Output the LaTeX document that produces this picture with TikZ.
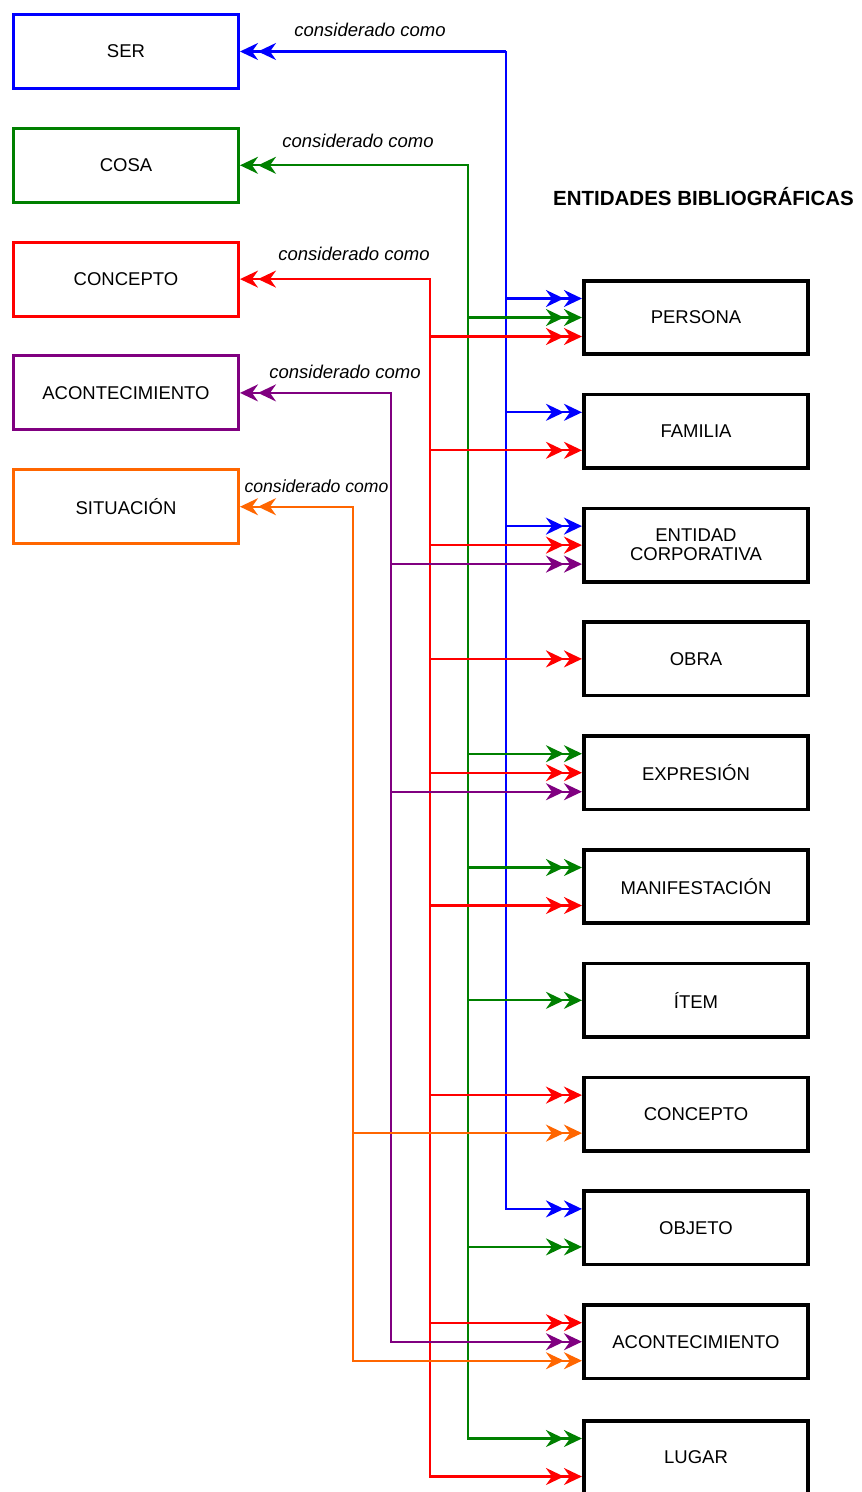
\documentclass[tikz,border=0pt]{standalone}
\usepackage{fontspec}
\setmainfont{Liberation Sans}
\usetikzlibrary{arrows.meta}
\definecolor{cblue}{RGB}{0,0,255}
\definecolor{cgreen}{RGB}{0,128,0}
\definecolor{cred}{RGB}{255,0,0}
\definecolor{cpurple}{RGB}{128,0,128}
\definecolor{corange}{RGB}{255,102,0}
\begin{document}
\begin{tikzpicture}[x=1pt,y=-1pt,
 lbox/.style={draw,line width=3pt,minimum width=225pt,minimum height=74pt,inner sep=0pt,font=\fontsize{18.5}{19}\selectfont,align=center},
 rbox/.style={draw=black,line width=3.6pt,minimum width=224.5pt,minimum height=73.5pt,inner sep=0pt,font=\fontsize{18.5}{19}\selectfont,align=center},
 dbl/.style={line width=2.2pt,-{Stealth[length=18pt,width=17pt,inset=6pt]Stealth[length=18pt,width=17pt,inset=6pt]}},
 trunk/.style={line width=2pt,line cap=rect},
 lab/.style={font=\itshape\fontsize{18.5}{20}\selectfont,inner sep=0pt}]
\useasboundingbox (0,0) rectangle (862,1492);
\fill[white] (0,0) rectangle (862,1492);

% left boxes
\node[lbox,draw=cblue]   (ser)  at (126,51.5)  {SER};
\node[lbox,draw=cgreen]  (cosa) at (126,165.3) {COSA};
\node[lbox,draw=cred]    (conc) at (126,279.1) {CONCEPTO};
\node[lbox,draw=cpurple] (acon) at (126,392.9) {ACONTECIMIENTO};
\node[lbox,draw=corange] (situ) at (126,506.7) {SITUACIÓN};

% labels
\node[lab] (l1) at (370,30) {considerado como};
\node[lab] (l2) at (358,141) {considerado como};
\node[lab] (l3) at (354,254) {considerado como};
\node[lab] (l4) at (345,372) {considerado como};
\node[lab,font=\itshape\fontsize{17.6}{20}\selectfont] (l5) at (316.5,486) {considerado como};

\node[font=\bfseries\fontsize{20.5}{22}\selectfont,inner sep=0pt] (title) at (703.5,197) {ENTIDADES BIBLIOGRÁFICAS};

% right boxes
\node[rbox] (persona) at (696,317.5)  {PERSONA};
\node[rbox] (familia) at (696,431.3)  {FAMILIA};
\node[rbox] (entidad) at (696,545.1)  {ENTIDAD\\CORPORATIVA};
\node[rbox] (obra)    at (696,658.9)  {OBRA};
\node[rbox] (expr)    at (696,772.7)  {EXPRESIÓN};
\node[rbox] (manif)   at (696,886.5)  {MANIFESTACIÓN};
\node[rbox] (item)    at (696,1000.3) {ÍTEM};
\node[rbox] (concb)   at (696,1114.1) {CONCEPTO};
\node[rbox] (objeto)  at (696,1227.9) {OBJETO};
\node[rbox] (aconb)   at (696,1341.7) {ACONTECIMIENTO};
\node[rbox] (lugar)   at (696,1457.5) {LUGAR};

\foreach \n in {persona,familia,entidad,obra,expr,manif,item,concb,objeto,aconb,lugar}{
  \coordinate (\n-a) at ([yshift=19pt]\n.west);
  \coordinate (\n-m) at (\n.west);
  \coordinate (\n-c) at ([yshift=-19pt]\n.west);
}

% trunk tops
\coordinate (bT) at (506,51.5);
\coordinate (gT) at (468,165.3);
\coordinate (rT) at (430,279.1);
\coordinate (pT) at (391,392.9);
\coordinate (oT) at (353,506.7);

% blue
\draw[trunk,cblue] (bT) -- (bT |- objeto-a);
\draw[dbl,cblue] (bT) -- (ser.east);
\foreach \t in {persona-a,familia-a,entidad-a,objeto-a}
  \draw[dbl,cblue] (bT |- \t) -- (\t);

% green
\draw[trunk,cgreen] (gT) -- (gT |- lugar-a);
\draw[dbl,cgreen] (gT) -- (cosa.east);
\foreach \t in {persona-m,expr-a,manif-a,item-m,objeto-c,lugar-a}
  \draw[dbl,cgreen] (gT |- \t) -- (\t);

% red
\draw[trunk,cred] (rT) -- (rT |- lugar-c);
\draw[dbl,cred] (rT) -- (conc.east);
\foreach \t in {persona-c,familia-c,entidad-m,obra-m,expr-m,manif-c,concb-a,aconb-a,lugar-c}
  \draw[dbl,cred] (rT |- \t) -- (\t);

% purple
\draw[trunk,cpurple] (pT) -- (pT |- aconb-m);
\draw[dbl,cpurple] (pT) -- (acon.east);
\foreach \t in {entidad-c,expr-c,aconb-m}
  \draw[dbl,cpurple] (pT |- \t) -- (\t);

% orange
\draw[trunk,corange] (oT) -- (oT |- aconb-c);
\draw[dbl,corange] (oT) -- (situ.east);
\foreach \t in {concb-c,aconb-c}
  \draw[dbl,corange] (oT |- \t) -- (\t);
\end{tikzpicture}
\end{document}
